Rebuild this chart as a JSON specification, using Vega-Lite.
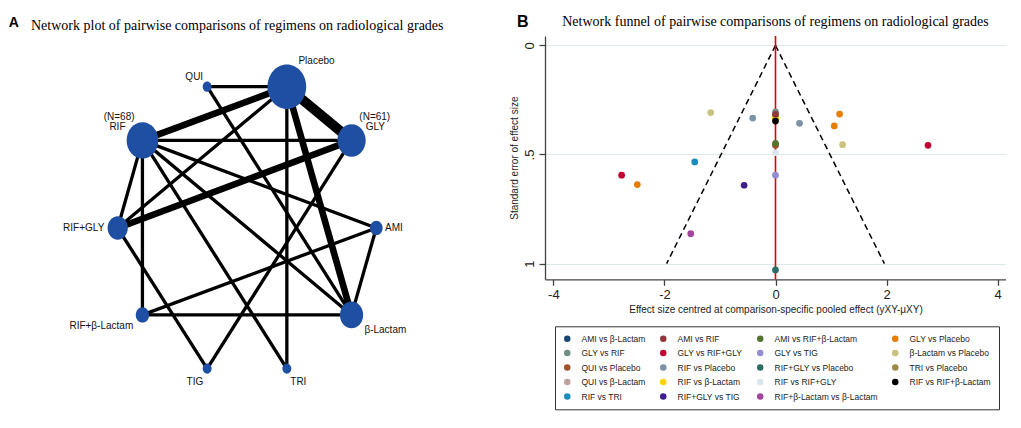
{
  "$schema": "https://vega.github.io/schema/vega-lite/v6.json",
  "padding": {"left": 0, "top": 13, "right": 0, "bottom": 0},
  "background": "white",
  "bounds": "flush",
  "spacing": 95,
  "config": {"view": {"stroke": null}},
  "datasets": {
    "nodes": [
      {"node": "Placebo", "x": 0.282, "y": 1.0, "w": 150},
      {"node": "QUI", "x": -0.282, "y": 1.0, "w": 8},
      {"node": "RIF", "x": -0.74, "y": 0.62, "w": 100, "nlabel": "(N=68)"},
      {"node": "GLY", "x": 0.74, "y": 0.62, "w": 80, "nlabel": "(N=61)"},
      {"node": "RIF+GLY", "x": -0.915, "y": 0, "w": 41},
      {"node": "AMI", "x": 0.915, "y": 0, "w": 16},
      {"node": "RIF+β-Lactam", "x": -0.74, "y": -0.615, "w": 18},
      {"node": "β-Lactam", "x": 0.74, "y": -0.615, "w": 54},
      {"node": "TIG", "x": -0.282, "y": -0.995, "w": 8},
      {"node": "TRI", "x": 0.282, "y": -0.995, "w": 8}
    ],
    "edges": [
      {"source": "QUI", "target": "Placebo", "sx": -0.282, "sy": 1.0, "tx": 0.282, "ty": 1.0, "n_studies": 1},
      {"source": "QUI", "target": "β-Lactam", "sx": -0.282, "sy": 1.0, "tx": 0.74, "ty": -0.615, "n_studies": 1},
      {"source": "RIF", "target": "Placebo", "sx": -0.74, "sy": 0.62, "tx": 0.282, "ty": 1.0, "n_studies": 2},
      {"source": "GLY", "target": "Placebo", "sx": 0.74, "sy": 0.62, "tx": 0.282, "ty": 1.0, "n_studies": 3},
      {"source": "RIF+GLY", "target": "Placebo", "sx": -0.915, "sy": 0, "tx": 0.282, "ty": 1.0, "n_studies": 1},
      {"source": "TRI", "target": "Placebo", "sx": 0.282, "sy": -0.995, "tx": 0.282, "ty": 1.0, "n_studies": 1},
      {"source": "β-Lactam", "target": "Placebo", "sx": 0.74, "sy": -0.615, "tx": 0.282, "ty": 1.0, "n_studies": 2},
      {"source": "GLY", "target": "RIF", "sx": 0.74, "sy": 0.62, "tx": -0.74, "ty": 0.62, "n_studies": 1},
      {"source": "RIF", "target": "RIF+GLY", "sx": -0.74, "sy": 0.62, "tx": -0.915, "ty": 0, "n_studies": 1},
      {"source": "RIF", "target": "RIF+β-Lactam", "sx": -0.74, "sy": 0.62, "tx": -0.74, "ty": -0.615, "n_studies": 1},
      {"source": "AMI", "target": "RIF", "sx": 0.915, "sy": 0, "tx": -0.74, "ty": 0.62, "n_studies": 1},
      {"source": "RIF", "target": "β-Lactam", "sx": -0.74, "sy": 0.62, "tx": 0.74, "ty": -0.615, "n_studies": 1},
      {"source": "RIF", "target": "TRI", "sx": -0.74, "sy": 0.62, "tx": 0.282, "ty": -0.995, "n_studies": 1},
      {"source": "GLY", "target": "RIF+GLY", "sx": 0.74, "sy": 0.62, "tx": -0.915, "ty": 0, "n_studies": 2},
      {"source": "GLY", "target": "TIG", "sx": 0.74, "sy": 0.62, "tx": -0.282, "ty": -0.995, "n_studies": 1},
      {"source": "RIF+GLY", "target": "TIG", "sx": -0.915, "sy": 0, "tx": -0.282, "ty": -0.995, "n_studies": 1},
      {"source": "AMI", "target": "RIF+β-Lactam", "sx": 0.915, "sy": 0, "tx": -0.74, "ty": -0.615, "n_studies": 1},
      {"source": "AMI", "target": "β-Lactam", "sx": 0.915, "sy": 0, "tx": 0.74, "ty": -0.615, "n_studies": 1},
      {"source": "RIF+β-Lactam", "target": "β-Lactam", "sx": -0.74, "sy": -0.615, "tx": 0.74, "ty": -0.615, "n_studies": 1}
    ],
    "trials": [
      {"comparison": "AMI vs β-Lactam", "effect": 0, "se": 0.328},
      {"comparison": "TRI vs Placebo", "effect": 0, "se": 0.338},
      {"comparison": "RIF vs β-Lactam", "effect": 0, "se": 0.332},
      {"comparison": "RIF vs RIF+β-Lactam", "effect": 0, "se": 0.347},
      {"comparison": "GLY vs RIF", "effect": 0, "se": 0.305},
      {"comparison": "AMI vs RIF", "effect": 0, "se": 0.316},
      {"comparison": "RIF vs RIF+GLY", "effect": 0, "se": 0.492},
      {"comparison": "QUI vs β-Lactam", "effect": 0, "se": 0.455},
      {"comparison": "QUI vs Placebo", "effect": 0, "se": 0.458},
      {"comparison": "AMI vs RIF+β-Lactam", "effect": 0, "se": 0.449},
      {"comparison": "GLY vs TIG", "effect": 0, "se": 0.595},
      {"comparison": "RIF+GLY vs Placebo", "effect": 0, "se": 1.029},
      {"comparison": "β-Lactam vs Placebo", "effect": -1.166, "se": 0.308},
      {"comparison": "β-Lactam vs Placebo", "effect": 1.208, "se": 0.455},
      {"comparison": "RIF vs Placebo", "effect": -0.41, "se": 0.333},
      {"comparison": "RIF vs Placebo", "effect": 0.433, "se": 0.357},
      {"comparison": "GLY vs Placebo", "effect": 1.154, "se": 0.315},
      {"comparison": "GLY vs Placebo", "effect": 1.058, "se": 0.369},
      {"comparison": "GLY vs Placebo", "effect": -2.488, "se": 0.638},
      {"comparison": "GLY vs RIF+GLY", "effect": 2.746, "se": 0.458},
      {"comparison": "GLY vs RIF+GLY", "effect": -2.77, "se": 0.595},
      {"comparison": "RIF vs TRI", "effect": -1.454, "se": 0.534},
      {"comparison": "RIF+GLY vs TIG", "effect": -0.565, "se": 0.641},
      {"comparison": "RIF+β-Lactam vs β-Lactam", "effect": -1.526, "se": 0.863}
    ],
    "funnel": [
      {"ex_a": 0, "se_a": 0, "ex_b": -1.96, "se_b": 1},
      {"ex_a": 0, "se_a": 0, "ex_b": 1.96, "se_b": 1}
    ]
  },
  "hconcat": [
    {
      "width": 450,
      "height": 383.3,
      "title": {
        "text": "Network plot of pairwise comparisons of regimens on radiological grades",
        "font": "Liberation Serif", "fontSize": 14, "fontWeight": "normal", "color": "black",
        "anchor": "start", "frame": "group", "dx": 31, "baseline": "alphabetic", "offset": -28.3
      },
      "layer": [
        {
          "data": {"name": "edges"},
          "mark": {"type": "rule", "color": "black", "strokeCap": "butt"},
          "encoding": {
            "x": {"field": "sx", "type": "quantitative", "scale": {"domain": [-1.748, 1.4367], "nice": false, "zero": false}, "axis": null},
            "y": {"field": "sy", "type": "quantitative", "scale": {"domain": [-1.3539, 1.3588], "nice": false, "zero": false}, "axis": null},
            "x2": {"field": "tx"},
            "y2": {"field": "ty"},
            "strokeWidth": {"field": "n_studies", "type": "quantitative", "scale": {"domain": [0, 3], "range": [0, 9.9]}, "legend": null}
          }
        },
        {
          "data": {"name": "nodes"},
          "mark": {"type": "point", "filled": true, "opacity": 1, "color": "#1f4fa3", "strokeWidth": 0,
                   "shape": "M-1,0A1,1.15,0,1,1,1,0A1,1.15,0,1,1,-1,0Z"},
          "encoding": {
            "x": {"field": "x", "type": "quantitative", "axis": null},
            "y": {"field": "y", "type": "quantitative", "axis": null},
            "size": {"field": "w", "type": "quantitative", "scale": {"domain": [0, 150], "range": [0, 1498]}, "legend": null}
          }
        },
        {
          "data": {"name": "nodes"},
          "transform": [{"filter": "datum.node === 'Placebo'"}],
          "mark": {"type": "text", "align": "left", "baseline": "middle", "dx": 11.6, "dy": -25.5, "font": "Liberation Sans", "fontSize": 10, "color": "#111"},
          "encoding": {"x": {"field": "x", "type": "quantitative", "axis": null}, "y": {"field": "y", "type": "quantitative", "axis": null}, "text": {"field": "node"}}
        },
        {
          "data": {"name": "nodes"},
          "transform": [{"filter": "datum.node === 'QUI'"}],
          "mark": {"type": "text", "align": "right", "baseline": "middle", "dx": -4, "dy": -9.5, "font": "Liberation Sans", "fontSize": 10, "color": "#111"},
          "encoding": {"x": {"field": "x", "type": "quantitative", "axis": null}, "y": {"field": "y", "type": "quantitative", "axis": null}, "text": {"field": "node"}}
        },
        {
          "data": {"name": "nodes"},
          "transform": [{"filter": "datum.node === 'RIF'"}],
          "mark": {"type": "text", "align": "center", "baseline": "middle", "dx": -25, "dy": -13.3, "font": "Liberation Sans", "fontSize": 10, "color": "#111"},
          "encoding": {"x": {"field": "x", "type": "quantitative", "axis": null}, "y": {"field": "y", "type": "quantitative", "axis": null}, "text": {"field": "node"}}
        },
        {
          "data": {"name": "nodes"},
          "transform": [{"filter": "datum.node === 'RIF'"}],
          "mark": {"type": "text", "align": "center", "baseline": "middle", "dx": -23.3, "dy": -23.3, "font": "Liberation Sans", "fontSize": 10, "color": "#111"},
          "encoding": {"x": {"field": "x", "type": "quantitative", "axis": null}, "y": {"field": "y", "type": "quantitative", "axis": null}, "text": {"field": "nlabel"}}
        },
        {
          "data": {"name": "nodes"},
          "transform": [{"filter": "datum.node === 'GLY'"}],
          "mark": {"type": "text", "align": "center", "baseline": "middle", "dx": 23.8, "dy": -13.1, "font": "Liberation Sans", "fontSize": 10, "color": "#111"},
          "encoding": {"x": {"field": "x", "type": "quantitative", "axis": null}, "y": {"field": "y", "type": "quantitative", "axis": null}, "text": {"field": "node"}}
        },
        {
          "data": {"name": "nodes"},
          "transform": [{"filter": "datum.node === 'GLY'"}],
          "mark": {"type": "text", "align": "center", "baseline": "middle", "dx": 23.2, "dy": -23.1, "font": "Liberation Sans", "fontSize": 10, "color": "#111"},
          "encoding": {"x": {"field": "x", "type": "quantitative", "axis": null}, "y": {"field": "y", "type": "quantitative", "axis": null}, "text": {"field": "nlabel"}}
        },
        {
          "data": {"name": "nodes"},
          "transform": [{"filter": "datum.node === 'RIF+GLY'"}],
          "mark": {"type": "text", "align": "right", "baseline": "middle", "dx": -13.4, "dy": 0.3, "font": "Liberation Sans", "fontSize": 10, "color": "#111"},
          "encoding": {"x": {"field": "x", "type": "quantitative", "axis": null}, "y": {"field": "y", "type": "quantitative", "axis": null}, "text": {"field": "node"}}
        },
        {
          "data": {"name": "nodes"},
          "transform": [{"filter": "datum.node === 'AMI'"}],
          "mark": {"type": "text", "align": "left", "baseline": "middle", "dx": 8.7, "dy": 0.2, "font": "Liberation Sans", "fontSize": 10, "color": "#111"},
          "encoding": {"x": {"field": "x", "type": "quantitative", "axis": null}, "y": {"field": "y", "type": "quantitative", "axis": null}, "text": {"field": "node"}}
        },
        {
          "data": {"name": "nodes"},
          "transform": [{"filter": "datum.node === 'RIF+β-Lactam'"}],
          "mark": {"type": "text", "align": "center", "baseline": "middle", "dx": -41.1, "dy": 11.2, "font": "Liberation Sans", "fontSize": 10, "color": "#111"},
          "encoding": {"x": {"field": "x", "type": "quantitative", "axis": null}, "y": {"field": "y", "type": "quantitative", "axis": null}, "text": {"field": "node"}}
        },
        {
          "data": {"name": "nodes"},
          "transform": [{"filter": "datum.node === 'β-Lactam'"}],
          "mark": {"type": "text", "align": "center", "baseline": "middle", "dx": 33.8, "dy": 14.9, "font": "Liberation Sans", "fontSize": 10, "color": "#111"},
          "encoding": {"x": {"field": "x", "type": "quantitative", "axis": null}, "y": {"field": "y", "type": "quantitative", "axis": null}, "text": {"field": "node"}}
        },
        {
          "data": {"name": "nodes"},
          "transform": [{"filter": "datum.node === 'TIG'"}],
          "mark": {"type": "text", "align": "center", "baseline": "middle", "dx": -12.3, "dy": 13.5, "font": "Liberation Sans", "fontSize": 10, "color": "#111"},
          "encoding": {"x": {"field": "x", "type": "quantitative", "axis": null}, "y": {"field": "y", "type": "quantitative", "axis": null}, "text": {"field": "node"}}
        },
        {
          "data": {"name": "nodes"},
          "transform": [{"filter": "datum.node === 'TRI'"}],
          "mark": {"type": "text", "align": "center", "baseline": "middle", "dx": 11.5, "dy": 13.7, "font": "Liberation Sans", "fontSize": 10, "color": "#111"},
          "encoding": {"x": {"field": "x", "type": "quantitative", "axis": null}, "y": {"field": "y", "type": "quantitative", "axis": null}, "text": {"field": "node"}}
        },
        {
          "data": {"values": [{"letter": "A", "lx": -1.6504, "ly": 1.4536}]},
          "mark": {"type": "text", "align": "center", "baseline": "middle", "font": "Liberation Sans", "fontSize": 14, "fontWeight": "bold", "color": "black"},
          "encoding": {
            "x": {"field": "lx", "type": "quantitative", "axis": null},
            "y": {"field": "ly", "type": "quantitative", "axis": null},
            "text": {"field": "letter"}
          }
        }
      ]
    },
    {
      "width": 461,
      "height": 243.3,
      "title": {
        "text": "Network funnel of pairwise comparisons of regimens on radiological grades",
        "font": "Liberation Serif", "fontSize": 14, "fontWeight": "normal", "color": "black",
        "anchor": "middle", "frame": "group", "baseline": "alphabetic", "offset": -26.5
      },
      "layer": [
        {
          "data": {"name": "funnel"},
          "mark": {"type": "rule", "color": "black", "strokeWidth": 1.5, "strokeDash": [6, 4]},
          "encoding": {
            "x": {"field": "ex_a", "type": "quantitative", "title": "Effect size centred at comparison-specific pooled effect (yXY-μXY)"},
            "y": {"field": "se_a", "type": "quantitative", "title": "Standard error of effect size"},
            "x2": {"field": "ex_b"},
            "y2": {"field": "se_b"}
          }
        },
        {
          "data": {"values": [{"null_effect": 0}]},
          "mark": {"type": "rule", "color": "#e00000", "strokeWidth": 1.6},
          "encoding": {
            "x": {"field": "null_effect", "type": "quantitative", "title": "Effect size centred at comparison-specific pooled effect (yXY-μXY)"}
          }
        },
        {
          "data": {"name": "trials"},
          "mark": {"type": "point", "filled": true, "opacity": 1, "size": 45, "strokeWidth": 0},
          "encoding": {
            "x": {
              "field": "effect", "type": "quantitative",
              "scale": {"domain": [-4.15, 4.15], "nice": false, "zero": false},
              "axis": {
                "values": [-4, -2, 0, 2, 4], "format": "d",
                "labelExpr": "replace(datum.label, '\u2212', '-')",
                "labelFont": "Liberation Sans", "labelFontSize": 13, "labelColor": "#222", "labelPadding": 3,
                "tickSize": 6, "tickColor": "#444", "tickWidth": 1.3, "domainColor": "#444", "domainWidth": 1.3,
                "grid": false,
                "title": "Effect size centred at comparison-specific pooled effect (yXY-μXY)",
                "titleFont": "Liberation Sans", "titleFontSize": 10, "titleFontWeight": "normal", "titleColor": "#222", "titlePadding": 3
              }
            },
            "y": {
              "field": "se", "type": "quantitative",
              "scale": {"domain": [-0.043, 1.072], "reverse": true, "nice": false, "zero": false},
              "axis": {
                "values": [0, 0.5, 1],
                "labelExpr": "datum.value === 0.5 ? '.5' : format(datum.value, 'd')",
                "labelAngle": -90, "labelAlign": "center", "labelBaseline": "bottom",
                "labelFont": "Liberation Sans", "labelFontSize": 13, "labelColor": "#222", "labelPadding": 3,
                "tickSize": 6, "tickColor": "#444", "tickWidth": 1.3, "domainColor": "#444", "domainWidth": 1.3,
                "grid": true, "gridColor": "#dce8ec", "gridWidth": 1,
                "title": "Standard error of effect size",
                "titleFont": "Liberation Sans", "titleFontSize": 10, "titleFontWeight": "normal", "titleColor": "#222", "titlePadding": 4
              }
            },
            "color": {
              "field": "comparison", "type": "nominal",
              "scale": {
                "domain": ["AMI vs β-Lactam", "AMI vs RIF", "AMI vs RIF+β-Lactam", "GLY vs Placebo",
                           "GLY vs RIF", "GLY vs RIF+GLY", "GLY vs TIG", "β-Lactam vs Placebo",
                           "QUI vs Placebo", "RIF vs Placebo", "RIF+GLY vs Placebo", "TRI vs Placebo",
                           "QUI vs β-Lactam", "RIF vs β-Lactam", "RIF vs RIF+GLY", "RIF vs RIF+β-Lactam",
                           "RIF vs TRI", "RIF+GLY vs TIG", "RIF+β-Lactam vs β-Lactam"],
                "range": ["#1a476f", "#90353b", "#55752f", "#e37e00",
                          "#6e8e84", "#c10534", "#938dd2", "#cac27e",
                          "#a0522d", "#7b92a8", "#2d6d66", "#9c8847",
                          "#bfa19c", "#ffd200", "#d9e6eb", "#000000",
                          "#1a8bbd", "#3f1d8a", "#a3449d"]
              },
              "legend": {
                "orient": "none", "legendX": 555, "legendY": 290.3,
                "columns": 4, "direction": "horizontal", "title": null,
                "strokeColor": "#333", "padding": 8,
                "symbolType": "circle", "symbolSize": 42, "symbolStrokeWidth": 0,
                "labelFont": "Liberation Sans", "labelFontSize": 8.5, "labelColor": "#222",
                "labelOffset": 10, "columnPadding": 13, "rowPadding": 5.5, "labelLimit": 200
              }
            }
          }
        },
        {
          "data": {"values": [{"letter": "B", "lx": -4.551, "ly": -0.1077}]},
          "mark": {"type": "text", "align": "center", "baseline": "middle", "font": "Liberation Sans", "fontSize": 16, "fontWeight": "bold", "color": "black"},
          "encoding": {
            "x": {"field": "lx", "type": "quantitative", "title": "Effect size centred at comparison-specific pooled effect (yXY-μXY)"},
            "y": {"field": "ly", "type": "quantitative", "title": "Standard error of effect size"},
            "text": {"field": "letter"}
          }
        }
      ]
    }
  ]
}
